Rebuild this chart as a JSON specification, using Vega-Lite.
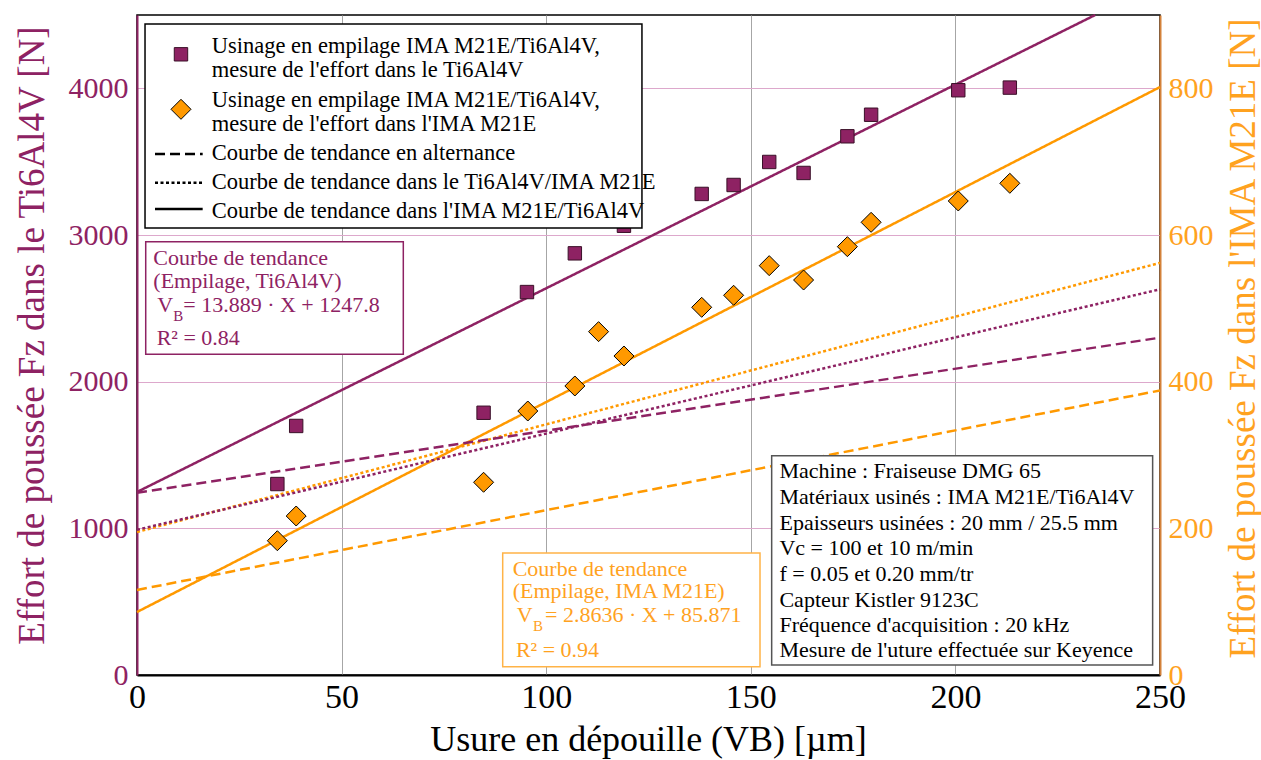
{
  "$schema": "https://vega.github.io/schema/vega-lite/v6.json",
  "width": 1023,
  "height": 660,
  "autosize": {"type": "none"},
  "padding": {"left": 137, "top": 15, "right": 101, "bottom": 85},
  "background": "white",
  "config": {
    "font": "Liberation Serif",
    "view": {"stroke": "black", "strokeWidth": 1.5},
    "axis": {"labelFont": "Liberation Serif", "titleFont": "Liberation Serif", "titleFontWeight": "normal", "ticks": false, "tickSize": 0}
  },
  "datasets": {
    "ti": [
      {"x": 34.3, "y": 1302}, {"x": 38.9, "y": 1698}, {"x": 84.7, "y": 1788}, {"x": 95.3, "y": 2611},
      {"x": 107.0, "y": 2875}, {"x": 119.0, "y": 3063}, {"x": 138.0, "y": 3280}, {"x": 145.8, "y": 3341},
      {"x": 154.5, "y": 3498}, {"x": 162.9, "y": 3423}, {"x": 173.6, "y": 3673}, {"x": 179.4, "y": 3820},
      {"x": 200.7, "y": 3987}, {"x": 213.3, "y": 4005}
    ],
    "ima": [
      {"x": 34.3, "y": 183.1}, {"x": 38.9, "y": 216.8}, {"x": 84.7, "y": 262.8}, {"x": 95.5, "y": 360.0},
      {"x": 107.0, "y": 394.1}, {"x": 112.8, "y": 468.2}, {"x": 119.0, "y": 435.0}, {"x": 138.0, "y": 501.4},
      {"x": 145.8, "y": 517.8}, {"x": 154.5, "y": 558.2}, {"x": 162.9, "y": 538.6}, {"x": 173.6, "y": 584.1},
      {"x": 179.4, "y": 617.3}, {"x": 200.7, "y": 646.4}, {"x": 213.3, "y": 670.5}
    ],
    "trend_ti": [
      {"x": 0, "y": 1247.8, "kind": "solid"}, {"x": 234.16, "y": 4500, "kind": "solid"},
      {"x": 0, "y": 1242, "kind": "dashed"}, {"x": 250, "y": 2300, "kind": "dashed"},
      {"x": 0, "y": 990, "kind": "dotted"}, {"x": 250, "y": 2630, "kind": "dotted"}
    ],
    "trend_ima": [
      {"x": 0, "y": 85.871, "kind": "solid"}, {"x": 250, "y": 801.771, "kind": "solid"},
      {"x": 0, "y": 116, "kind": "dashed"}, {"x": 250, "y": 388, "kind": "dashed"},
      {"x": 0, "y": 195, "kind": "dotted"}, {"x": 250, "y": 562, "kind": "dotted"}
    ],
    "legend_box": [{"x": 1.96, "x2": 123.4, "y": 4439, "y2": 3048}],
    "legend_sq": [{"x": 10.75, "y": 4232}],
    "legend_dia": [{"x": 10.75, "y": 3857}],
    "legend_lines": [
      {"x": 4.4, "x2": 16.05, "y": 3552, "kind": "dashed"},
      {"x": 4.4, "x2": 16.05, "y": 3357, "kind": "dotted"},
      {"x": 4.4, "x2": 16.05, "y": 3177, "kind": "solid"}
    ],
    "legend_text": [
      {"x": 18.25, "y": 4243, "text": "Usinage en empilage IMA M21E/Ti6Al4V,"},
      {"x": 18.25, "y": 4079, "text": "mesure de l'effort dans le Ti6Al4V"},
      {"x": 18.25, "y": 3871, "text": "Usinage en empilage IMA M21E/Ti6Al4V,"},
      {"x": 18.25, "y": 3711, "text": "mesure de l'effort dans l'IMA M21E"},
      {"x": 18.25, "y": 3511, "text": "Courbe de tendance en alternance"},
      {"x": 18.25, "y": 3314, "text": "Courbe de tendance dans le Ti6Al4V/IMA M21E"},
      {"x": 18.25, "y": 3114, "text": "Courbe de tendance dans l'IMA M21E/Ti6Al4V"}
    ],
    "ti_box": [{"x": 2.13, "x2": 65.08, "y": 2954, "y2": 2187}],
    "ti_note": [
      {"x": 3.99, "y": 2795, "text": "Courbe de tendance"},
      {"x": 3.99, "y": 2637, "text": "(Empilage, Ti6Al4V)"},
      {"x": 4.97, "y": 2477, "text": "V"},
      {"x": 11.3, "y": 2477, "text": "= 13.889 · X + 1247.8"},
      {"x": 4.8, "y": 2250, "text": "R² = 0.84"}
    ],
    "ti_sub": [{"x": 8.87, "y": 2416, "text": "B"}],
    "ima_box": [{"x": 89.37, "x2": 152.25, "y": 166.4, "y2": 11.3}],
    "ima_note": [
      {"x": 91.8, "y": 135.0, "text": "Courbe de tendance"},
      {"x": 91.8, "y": 104.6, "text": "(Empilage, IMA M21E)"},
      {"x": 92.8, "y": 72.7, "text": "V"},
      {"x": 99.7, "y": 72.7, "text": "= 2.8636 · X + 85.871"},
      {"x": 92.6, "y": 24.1, "text": "R² = 0.94"}
    ],
    "ima_sub": [{"x": 96.8, "y": 60.4, "text": "B"}],
    "info_box": [{"x": 155.1, "x2": 248.2, "y": 1495, "y2": 68}],
    "info_text": [
      {"x": 157.0, "y": 1341, "text": "Machine : Fraiseuse DMG 65"},
      {"x": 157.0, "y": 1166, "text": "Matériaux usinés : IMA M21E/Ti6Al4V"},
      {"x": 157.0, "y": 989, "text": "Epaisseurs usinées : 20 mm / 25.5 mm"},
      {"x": 157.0, "y": 818, "text": "Vc = 100 et 10 m/min"},
      {"x": 157.0, "y": 641, "text": "f  = 0.05 et 0.20 mm/tr"},
      {"x": 157.0, "y": 466, "text": "Capteur Kistler 9123C"},
      {"x": 157.0, "y": 295, "text": "Fréquence d'acquisition : 20 kHz"},
      {"x": 157.0, "y": 121, "text": "Mesure de l'uture effectuée sur Keyence"}
    ]
  },
  "encoding": {
    "x": {
      "field": "x", "type": "quantitative",
      "scale": {"domain": [0, 250], "nice": false, "zero": false},
      "axis": {
        "title": "Usure en dépouille (VB) [µm]",
        "values": [0, 50, 100, 150, 200, 250],
        "labelFontSize": 34, "labelColor": "black", "labelPadding": 22, "labelBaseline": "middle", "labelFlush": false, "labelOverlap": false,
        "titleFontSize": 36, "titleColor": "black", "titleX": 511, "titleY": 75, "titleBaseline": "alphabetic", "titleAlign": "center",
        "domainColor": "black", "domainWidth": 2,
        "grid": true, "gridColor": "#A6A6A6", "gridWidth": 1,
        "gridOpacity": {"condition": {"test": "datum.value === 0 || datum.value === 250", "value": 0}, "value": 1}
      }
    }
  },
  "layer": [
    {
      "encoding": {
        "y": {
          "field": "y", "type": "quantitative",
          "scale": {"domain": [0, 900], "nice": false, "zero": false},
          "axis": {
            "orient": "right",
            "title": "Effort de poussée Fz dans l'IMA M21E [N]",
            "values": [0, 200, 400, 600, 800], "format": "d",
            "labelFontSize": 30, "labelColor": "#FFA21F", "labelPadding": 8,
            "titleFontSize": 37, "titleColor": "#FFA21F", "titleAngle": 270, "titleX": 94, "titleY": 323,
            "titleAlign": "center", "titleBaseline": "alphabetic",
            "domainColor": "#D4823A", "domainWidth": 2, "grid": false
          }
        }
      },
      "layer": [
        {
          "data": {"name": "trend_ima"},
          "mark": {"type": "line", "color": "#FF9900", "strokeWidth": 2.5},
          "encoding": {
            "strokeDash": {"field": "kind", "type": "nominal", "scale": {"domain": ["solid", "dashed", "dotted"], "range": [[1, 0], [10, 5], [3, 2.5]]}, "legend": null}
          }
        },
        {
          "data": {"name": "ima"},
          "mark": {"type": "point", "shape": "diamond", "filled": true, "fill": "#FF9900", "stroke": "black", "strokeWidth": 1, "size": 400, "opacity": 1}
        },
        {
          "data": {"name": "ima_box"},
          "mark": {"type": "rect", "fill": "white", "stroke": "#FFB347", "strokeWidth": 1.5},
          "encoding": {"x2": {"field": "x2"}, "y2": {"field": "y2"}}
        },
        {
          "data": {"name": "ima_note"},
          "mark": {"type": "text", "font": "Liberation Serif", "fontSize": 22, "align": "left", "baseline": "alphabetic", "color": "#FFA21F"},
          "encoding": {"text": {"field": "text"}}
        },
        {
          "data": {"name": "ima_sub"},
          "mark": {"type": "text", "font": "Liberation Serif", "fontSize": 15, "align": "left", "baseline": "alphabetic", "color": "#FFA21F"},
          "encoding": {"text": {"field": "text"}}
        }
      ]
    },
    {
      "encoding": {
        "y": {
          "field": "y", "type": "quantitative",
          "scale": {"domain": [0, 4500], "nice": false, "zero": false},
          "axis": {
            "orient": "left",
            "title": "Effort de poussée Fz dans le Ti6Al4V [N]",
            "values": [0, 1000, 2000, 3000, 4000], "format": "d",
            "labelFontSize": 30, "labelColor": "#8E2263", "labelPadding": 9,
            "titleFontSize": 37, "titleColor": "#8E2263", "titleAngle": 270, "titleX": -94, "titleY": 320,
            "titleAlign": "center", "titleBaseline": "alphabetic",
            "domainColor": "#8E2263", "domainWidth": 2,
            "grid": true, "gridColor": "#DDA8CC", "gridWidth": 1,
            "gridOpacity": {"condition": {"test": "datum.value === 0", "value": 0}, "value": 1}
          }
        }
      },
      "layer": [
        {
          "data": {"name": "trend_ti"},
          "mark": {"type": "line", "color": "#8E2263", "strokeWidth": 2.5},
          "encoding": {
            "strokeDash": {"field": "kind", "type": "nominal", "scale": {"domain": ["solid", "dashed", "dotted"], "range": [[1, 0], [10, 5], [3, 2.5]]}, "legend": null}
          }
        },
        {
          "data": {"name": "ti"},
          "mark": {"type": "point", "shape": "square", "filled": true, "fill": "#8E2263", "stroke": "#3A1028", "strokeWidth": 1, "size": 180, "opacity": 1}
        },
        {
          "data": {"name": "legend_box"},
          "mark": {"type": "rect", "fill": "white", "stroke": "black", "strokeWidth": 1.5},
          "encoding": {"x2": {"field": "x2"}, "y2": {"field": "y2"}}
        },
        {
          "data": {"name": "legend_sq"},
          "mark": {"type": "point", "shape": "square", "filled": true, "fill": "#8E2263", "stroke": "#3A1028", "strokeWidth": 1, "size": 180, "opacity": 1}
        },
        {
          "data": {"name": "legend_dia"},
          "mark": {"type": "point", "shape": "diamond", "filled": true, "fill": "#FF9900", "stroke": "black", "strokeWidth": 1, "size": 400, "opacity": 1}
        },
        {
          "data": {"name": "legend_lines"},
          "mark": {"type": "rule", "color": "black", "strokeWidth": 2.5},
          "encoding": {
            "x2": {"field": "x2"},
            "strokeDash": {"field": "kind", "type": "nominal", "scale": {"domain": ["solid", "dashed", "dotted"], "range": [[1, 0], [10, 5], [3, 2.5]]}, "legend": null}
          }
        },
        {
          "data": {"name": "legend_text"},
          "mark": {"type": "text", "font": "Liberation Serif", "fontSize": 22.5, "align": "left", "baseline": "alphabetic", "color": "black"},
          "encoding": {"text": {"field": "text"}}
        },
        {
          "data": {"name": "ti_box"},
          "mark": {"type": "rect", "fill": "white", "stroke": "#8E2263", "strokeWidth": 1.5},
          "encoding": {"x2": {"field": "x2"}, "y2": {"field": "y2"}}
        },
        {
          "data": {"name": "ti_note"},
          "mark": {"type": "text", "font": "Liberation Serif", "fontSize": 22, "align": "left", "baseline": "alphabetic", "color": "#8E2263"},
          "encoding": {"text": {"field": "text"}}
        },
        {
          "data": {"name": "ti_sub"},
          "mark": {"type": "text", "font": "Liberation Serif", "fontSize": 15, "align": "left", "baseline": "alphabetic", "color": "#8E2263"},
          "encoding": {"text": {"field": "text"}}
        },
        {
          "data": {"name": "info_box"},
          "mark": {"type": "rect", "fill": "white", "stroke": "#555555", "strokeWidth": 1.5},
          "encoding": {"x2": {"field": "x2"}, "y2": {"field": "y2"}}
        },
        {
          "data": {"name": "info_text"},
          "mark": {"type": "text", "font": "Liberation Serif", "fontSize": 22, "align": "left", "baseline": "alphabetic", "color": "black"},
          "encoding": {"text": {"field": "text"}}
        }
      ]
    }
  ],
  "resolve": {"scale": {"y": "independent"}}
}
